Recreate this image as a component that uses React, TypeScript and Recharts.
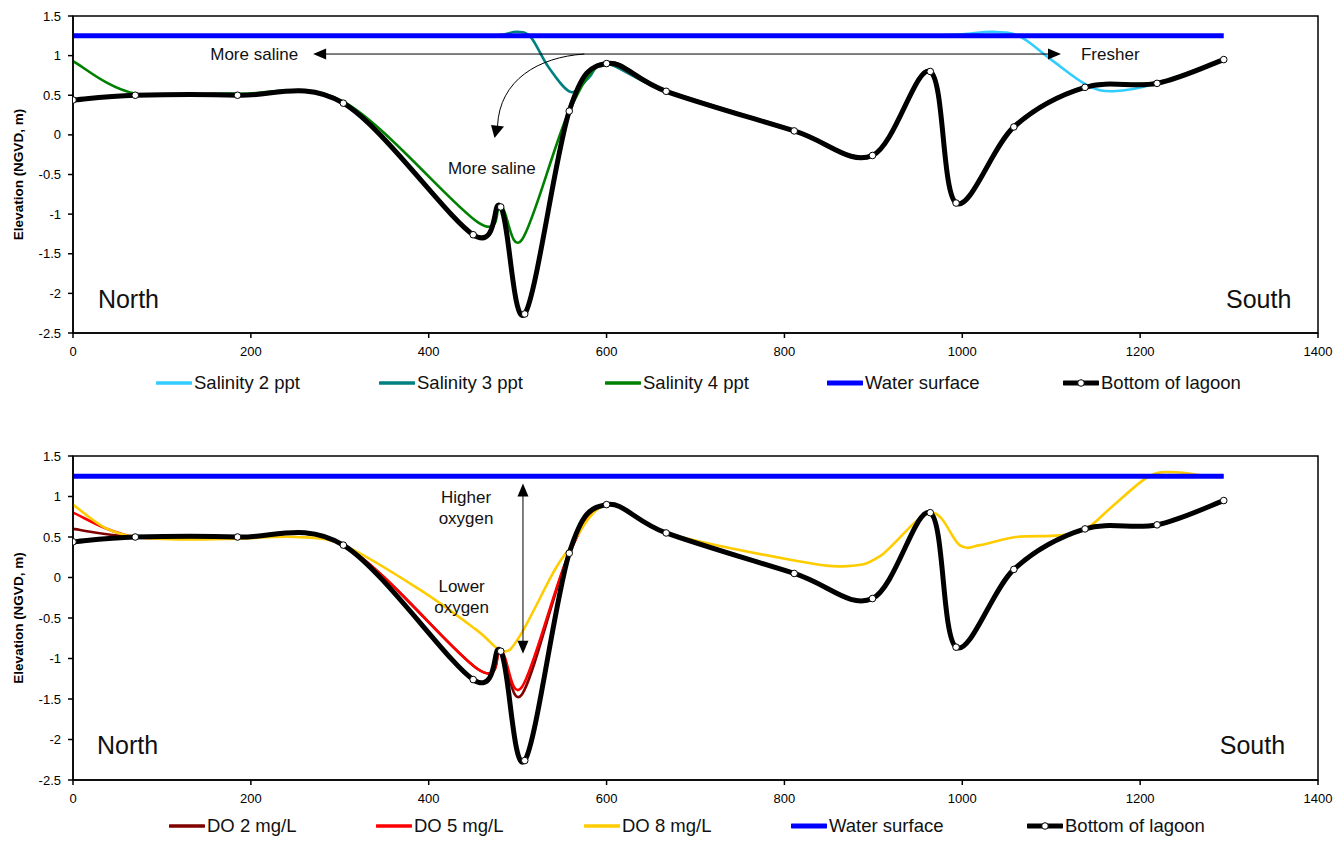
import React from "react";
import { LineChart, Line, XAxis, YAxis, ReferenceLine, ReferenceDot, ReferenceArea } from "recharts";

const FONT = "Arial, 'Liberation Sans', Helvetica, sans-serif";

// axes
const xTicks = [0, 200, 400, 600, 800, 1000, 1200, 1400];
const yTicks = [-2.5, -2, -1.5, -1, -0.5, 0, 0.5, 1, 1.5];

// bottom of lagoon (same in both panels)
const bottomX = [0, 70, 185, 304, 450, 481, 508, 558, 600, 667, 811, 899, 964, 993, 1058, 1138, 1219, 1294];
const bottomY = [0.44, 0.5, 0.5, 0.4, -1.26, -0.91, -2.26, 0.3, 0.9, 0.55, 0.05, -0.26, 0.8, -0.86, 0.1, 0.6, 0.65, 0.95];

// water surface
const surfaceX = [0, 185, 450, 600, 811, 993, 1138, 1294];
const surfaceY = [1.25, 1.25, 1.25, 1.25, 1.25, 1.25, 1.25, 1.25];

// salinity isolines
const sal2X = [0, 200, 400, 600, 800, 900, 960, 1000, 1035, 1065, 1100, 1140, 1170, 1219, 1294];
const sal2Y = [1.25, 1.25, 1.25, 1.25, 1.25, 1.25, 1.25, 1.27, 1.3, 1.24, 0.95, 0.63, 0.55, 0.65, 0.95];

const sal3X = [0, 150, 300, 400, 450, 480, 500, 515, 535, 560, 580, 600, 667, 811, 899, 964, 993, 1058, 1138, 1219, 1294];
const sal3Y = [1.25, 1.25, 1.25, 1.25, 1.25, 1.26, 1.3, 1.23, 0.85, 0.54, 0.72, 0.9, 0.55, 0.05, -0.26, 0.8, -0.86, 0.1, 0.6, 0.65, 0.95];

const sal4X = [0, 70, 185, 304, 455, 481, 505, 558, 600, 667, 811, 899, 964, 993, 1058, 1138, 1219, 1294];
const sal4Y = [0.93, 0.52, 0.52, 0.42, -1.1, -0.9, -1.32, 0.3, 0.91, 0.56, 0.06, -0.25, 0.81, -0.85, 0.11, 0.61, 0.66, 0.96];

// dissolved oxygen isolines
const do2X = [0, 70, 185, 304, 455, 481, 505, 558, 600, 667, 811, 899, 964, 993, 1058, 1138, 1219, 1294];
const do2Y = [0.6, 0.5, 0.5, 0.4, -1.13, -0.9, -1.44, 0.3, 0.9, 0.55, 0.05, -0.26, 0.8, -0.86, 0.1, 0.6, 0.65, 0.95];

const do5X = [0, 70, 185, 304, 455, 481, 505, 558, 600, 667, 811, 899, 964, 993, 1058, 1138, 1219, 1294];
const do5Y = [0.8, 0.5, 0.5, 0.4, -1.13, -0.9, -1.35, 0.3, 0.9, 0.55, 0.05, -0.26, 0.8, -0.86, 0.1, 0.6, 0.65, 0.95];

const do8X = [0, 35, 70, 120, 185, 250, 304, 390, 454, 483, 502, 540, 557, 600, 667, 811, 870, 907, 964, 997, 1020, 1060, 1109, 1139, 1168, 1210, 1240, 1270, 1294];
const do8Y = [0.9, 0.62, 0.5, 0.47, 0.48, 0.5, 0.4, -0.15, -0.65, -0.91, -0.73, 0.06, 0.34, 0.9, 0.55, 0.21, 0.14, 0.26, 0.8, 0.4, 0.4, 0.5, 0.52, 0.6, 0.87, 1.25, 1.3, 1.26, 1.25];

const pts = (xs: number[], ys: number[]) => xs.map((x, i) => ({ x, y: ys[i] }));

// Excel-like smoothed line: Catmull-Rom through every point
function smoothCurve(context: any) {
  let p: number[][] = [];
  return {
    areaStart() {},
    areaEnd() {},
    lineStart() {
      p = [];
    },
    point(x: number, y: number) {
      p.push([+x, +y]);
    },
    lineEnd() {
      if (!p.length) return;
      context.moveTo(p[0][0], p[0][1]);
      for (let i = 0; i < p.length - 1; i++) {
        const a = p[i - 1] || p[i];
        const b = p[i];
        const c = p[i + 1];
        const d = p[i + 2] || c;
        context.bezierCurveTo(
          b[0] + (c[0] - a[0]) / 6,
          b[1] + (c[1] - a[1]) / 6,
          c[0] - (d[0] - b[0]) / 6,
          c[1] - (d[1] - b[1]) / 6,
          c[0],
          c[1]
        );
      }
    },
  };
}

type Series = { name: string; xs: number[]; ys: number[]; color: string; width: number; dots?: boolean };

const topSeries: Series[] = [
  { name: "Salinity 2 ppt", xs: sal2X, ys: sal2Y, color: "#33CCFF", width: 2.6 },
  { name: "Salinity 3 ppt", xs: sal3X, ys: sal3Y, color: "#008080", width: 2.6 },
  { name: "Salinity 4 ppt", xs: sal4X, ys: sal4Y, color: "#008000", width: 2.6 },
  { name: "Water surface", xs: surfaceX, ys: surfaceY, color: "#0000FF", width: 5 },
  { name: "Bottom of lagoon", xs: bottomX, ys: bottomY, color: "#000000", width: 5, dots: true },
];

const lowSeries: Series[] = [
  { name: "DO 2 mg/L", xs: do2X, ys: do2Y, color: "#800000", width: 2.6 },
  { name: "DO 5 mg/L", xs: do5X, ys: do5Y, color: "#FF0000", width: 2.6 },
  { name: "DO 8 mg/L", xs: do8X, ys: do8Y, color: "#FFCC00", width: 2.6 },
  { name: "Water surface", xs: surfaceX, ys: surfaceY, color: "#0000FF", width: 5 },
  { name: "Bottom of lagoon", xs: bottomX, ys: bottomY, color: "#000000", width: 5, dots: true },
];

const topLegendLeft = [156, 379, 605, 827, 1063];
const lowLegendLeft = [169, 376, 584, 791, 1027];

const textProps = { fill: "#111", fontFamily: FONT };

const note = (lines: string[], size: number, anchor: "start" | "middle" | "end") => (p: any) => (
  <text x={p.cx} y={p.cy - ((lines.length - 1) * 21) / 2} textAnchor={anchor} dominantBaseline="central" fontSize={size} {...textProps}>
    {lines.map((l, i) => (
      <tspan key={i} x={p.cx} dy={i === 0 ? 0 : 21}>
        {l}
      </tspan>
    ))}
  </text>
);

const SalinityArrow = (p: any) => {
  const { x1, y1, x2, y2 } = p;
  return (
    <g>
      <line x1={x1 + 10} y1={y1} x2={x2 - 10} y2={y2} stroke="#000" strokeWidth={1} />
      <path d={`M${x1},${y1} l13,-5.5 l0,11 z`} fill="#000" />
      <path d={`M${x2},${y2} l-13,-5.5 l0,11 z`} fill="#000" />
      <text x={x1 - 15} y={y1} textAnchor="end" dominantBaseline="central" fontSize={17} {...textProps}>More saline</text>
      <text x={x2 + 20} y={y2} textAnchor="start" dominantBaseline="central" fontSize={17} {...textProps}>Fresher</text>
    </g>
  );
};

const CurvedArrow = (p: any) => {
  const { x1, y1, x2, y2 } = p;
  return (
    <g>
      <path d={`M${x1},${y1} C${x1 - 46},${y1 + 3} ${x2 + 5},${y2 - 58} ${x2 + 3},${y2 - 12}`} fill="none" stroke="#000" strokeWidth={1} />
      <path d={`M${x2},${y2} L${x2 - 3.5},${y2 - 13} L${x2 + 9.5},${y2 - 11.5} z`} fill="#000" />
    </g>
  );
};

const OxygenArrow = (p: any) => {
  const { x1, y1, x2, y2 } = p;
  return (
    <g>
      <line x1={x1} y1={y1 + 10} x2={x2} y2={y2 - 10} stroke="#000" strokeWidth={1} />
      <path d={`M${x1},${y1} l-5.5,13 l11,0 z`} fill="#000" />
      <path d={`M${x2},${y2} l-5.5,-13 l11,0 z`} fill="#000" />
    </g>
  );
};

const YLabel = (props: any) => {
  const vb = props.viewBox;
  const cx = vb.x - 5;
  const cy = vb.y + vb.height / 2;
  return (
    <text x={cx} y={cy} transform={`rotate(-90 ${cx} ${cy})`} textAnchor="middle" dominantBaseline="central" fontSize={13.5} fontWeight="bold" fill="#000" fontFamily={FONT}>
      Elevation (NGVD, m)
    </text>
  );
};

function Legend({ series, lefts, top }: { series: Series[]; lefts: number[]; top: number }) {
  return (
    <>
      {series.map((s, i) => (
        <div key={s.name} style={{ position: "absolute", left: lefts[i], top: top - 11, height: 22, display: "flex", alignItems: "center", fontFamily: FONT, fontSize: 18.5, color: "#111", whiteSpace: "nowrap" }}>
          <svg width={36} height={12} style={{ marginRight: 2 }}>
            <line x1={1} y1={6} x2={35} y2={6} stroke={s.color} strokeWidth={s.width > 3 ? 5 : 3.5} strokeLinecap="round" />
            {s.dots && <circle cx={18} cy={6} r={3.3} fill="#fff" stroke="#000" strokeWidth={1} />}
          </svg>
          <span>{s.name}</span>
        </div>
      ))}
    </>
  );
}

function Profile({ series, bottom, children }: { series: Series[]; bottom: number; children?: React.ReactNode }) {
  return (
    <LineChart width={1337} height={370} margin={{ top: 16, right: 19, bottom, left: 23 }}>
      <ReferenceArea x1={0} x2={1400} y1={-2.5} y2={1.5} fill="none" stroke="#000" strokeWidth={1.5} />
      <XAxis
        type="number"
        dataKey="x"
        domain={[0, 1400]}
        ticks={xTicks}
        allowDataOverflow
        height={30}
        tickSize={5}
        tickMargin={9}
        stroke="#000"
        strokeWidth={1.5}
        tick={{ fill: "#000", fontSize: 13, fontFamily: FONT }}
      />
      <YAxis
        type="number"
        domain={[-2.5, 1.5]}
        ticks={yTicks}
        allowDataOverflow
        width={50}
        tickSize={5}
        tickMargin={7}
        stroke="#000"
        strokeWidth={1.5}
        tick={{ fill: "#000", fontSize: 13, fontFamily: FONT }}
        label={{ content: YLabel }}
      />
      {series.map((s) => (
        <Line
          key={s.name}
          name={s.name}
          data={pts(s.xs, s.ys)}
          dataKey="y"
          type={smoothCurve as any}
          stroke={s.color}
          strokeWidth={s.width}
          dot={s.dots ? { r: 3.3, fill: "#fff", stroke: "#000", strokeWidth: 1 } : false}
          activeDot={false}
          isAnimationActive={false}
        />
      ))}
      {children}
    </LineChart>
  );
}

export default function App() {
  return (
    <div style={{ position: "absolute", left: 0, top: 0, width: 1337, height: 843, background: "#fff" }}>
      <div style={{ position: "absolute", left: 0, top: 0 }}>
        <Profile series={topSeries} bottom={7}>
          <ReferenceLine segment={[{ x: 270, y: 1.02 }, { x: 1111, y: 1.02 }]} shape={SalinityArrow} />
          <ReferenceLine segment={[{ x: 575, y: 1.02 }, { x: 474, y: -0.04 }]} shape={CurvedArrow} />
          <ReferenceDot x={471} y={-0.42} r={0} shape={note(["More saline"], 17, "middle")} />
          <ReferenceDot x={28} y={-2.07} r={0} shape={note(["North"], 25, "start")} />
          <ReferenceDot x={1370} y={-2.07} r={0} shape={note(["South"], 25, "end")} />
        </Profile>
      </div>
      <Legend series={topSeries} lefts={topLegendLeft} top={383} />
      <div style={{ position: "absolute", left: 0, top: 440 }}>
        <Profile series={lowSeries} bottom={0}>
          <ReferenceLine segment={[{ x: 506, y: 1.16 }, { x: 506, y: -0.94 }]} shape={OxygenArrow} />
          <ReferenceDot x={442} y={0.87} r={0} shape={note(["Higher", "oxygen"], 17, "middle")} />
          <ReferenceDot x={437} y={-0.23} r={0} shape={note(["Lower", "oxygen"], 17, "middle")} />
          <ReferenceDot x={27} y={-2.07} r={0} shape={note(["North"], 25, "start")} />
          <ReferenceDot x={1363} y={-2.07} r={0} shape={note(["South"], 25, "end")} />
        </Profile>
      </div>
      <Legend series={lowSeries} lefts={lowLegendLeft} top={826} />
    </div>
  );
}
